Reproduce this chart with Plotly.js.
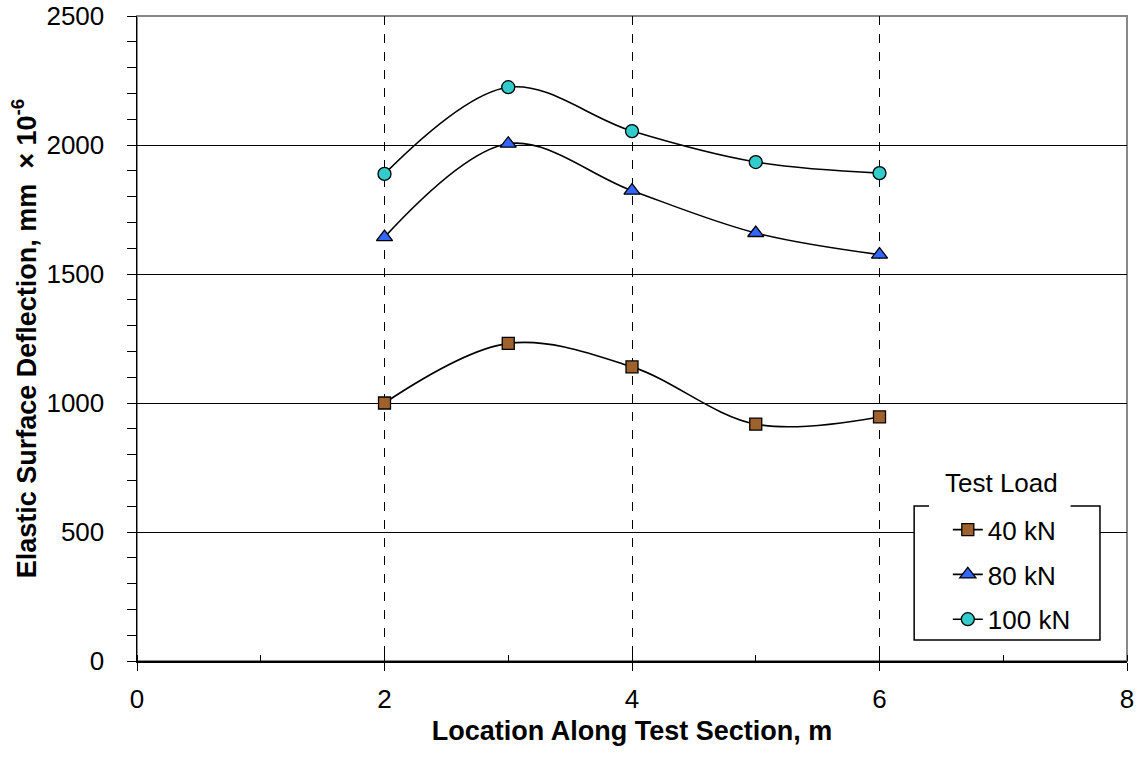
<!DOCTYPE html>
<html>
<head>
<meta charset="utf-8">
<script src="https://cdn.plot.ly/plotly-3.0.1.min.js"></script>
<style>html,body{margin:0;padding:0;background:#fff;}#chart{width:1138px;height:759px;}</style>
</head>
<body>
<div id="chart"></div>
<script>
const locations = [2, 3, 4, 5, 6];
const load40 = [1000, 1231, 1140, 918, 946];
const load80 = [1643, 2005, 1823, 1659, 1575];
const load100 = [1888, 2224, 2054, 1934, 1891];
const seriesNames = ['40 kN', '80 kN', '100 kN'];

const F = '"Liberation Sans", Arial, sans-serif';
const FS = 26;
const TS = 27;

function tr(y, name, symbol, color, size) {
  return {
    x: locations, y: y, name: name, type: 'scatter', mode: 'lines+markers',
    legendgroup: name,
    line: {color: '#000', width: 1.6, shape: 'spline', smoothing: 1},
    marker: {symbol: symbol, color: color, size: size, line: {color: '#000', width: 1.3}},
    cliponaxis: false
  };
}

const data = [
  tr(load40, seriesNames[0], 'square', '#A0622D', 12),
  tr(load80, seriesNames[1], 'triangle-up', '#3366FF', 14),
  tr(load100, seriesNames[2], 'circle', '#33CCCC', 13)
];

// legend box geometry (paper coords)
const bx0 = 0.785, bx1 = 0.9727, by0 = 0.0326, by1 = 0.2403;
const gapL = 0.8, gapR = 0.943;

const layout = {
  width: 1138, height: 759,
  margin: {l: 137, r: 11, t: 16, b: 98},
  paper_bgcolor: '#fff', plot_bgcolor: '#fff',
  font: {family: F, size: FS, color: '#000'},
  showlegend: true,
  xaxis: {
    range: [0, 8], dtick: 2, tick0: 0,
    showgrid: true, gridcolor: '#000', griddash: 'dash', gridwidth: 1,
    zeroline: false, showline: true, linecolor: '#000', linewidth: 1.5,
    ticks: 'outside', ticklen: 8, tickcolor: '#000', tickwidth: 1,
    ticklabelstandoff: 6,
    minor: {dtick: 1, ticks: 'inside', ticklen: 6, tickcolor: '#000', showgrid: false},
    tickfont: {family: F, size: FS},
    title: {text: '<b>Location Along Test Section, m</b>', font: {family: F, size: TS}, standoff: 8}
  },
  yaxis: {
    range: [0, 2500], dtick: 500, tick0: 0,
    showgrid: true, gridcolor: '#000', gridwidth: 1,
    zeroline: false, showline: true, linecolor: '#000', linewidth: 1.5,
    ticks: 'outside', ticklen: 9, tickcolor: '#000', tickwidth: 1,
    ticklabelstandoff: 17,
    minor: {dtick: 100, ticks: 'outside', ticklen: 9, tickcolor: '#000', showgrid: false},
    tickfont: {family: F, size: FS},
    title: {text: '<b>Elastic Surface Deflection, mm  × 10<sup>-6</sup></b>', font: {family: F, size: TS}, standoff: 2}
  },
  legend: {
    x: 0.819, y: 0.240, xanchor: 'left', yanchor: 'top',
    bgcolor: 'rgba(0,0,0,0)', borderwidth: 0, traceorder: 'grouped', tracegroupgap: 8,
    font: {family: F, size: FS}, itemwidth: 30
  },
  shapes: [
    {type: 'rect', xref: 'paper', yref: 'paper', x0: 0, x1: 1, y0: 0, y1: 1,
     line: {color: '#888', width: 2}, fillcolor: 'rgba(0,0,0,0)', layer: 'below'},
    {type: 'rect', xref: 'paper', yref: 'paper', x0: bx0, x1: bx1, y0: by0, y1: by1,
     line: {width: 0}, fillcolor: '#fff', layer: 'above'},
    {type: 'path', xref: 'paper', yref: 'paper', layer: 'above',
     path: `M ${gapL} ${by1} L ${bx0} ${by1} L ${bx0} ${by0} L ${bx1} ${by0} L ${bx1} ${by1} L ${gapR} ${by1}`,
     line: {color: '#000', width: 1.5}}
  ],
  annotations: [
    {xref: 'paper', yref: 'paper', x: 0.8735, y: 0.2755, text: 'Test Load', showarrow: false,
     font: {family: F, size: FS}, xanchor: 'center', yanchor: 'middle'}
  ]
};

Plotly.newPlot('chart', data, layout, {displayModeBar: false, staticPlot: true});
</script>
</body>
</html>
